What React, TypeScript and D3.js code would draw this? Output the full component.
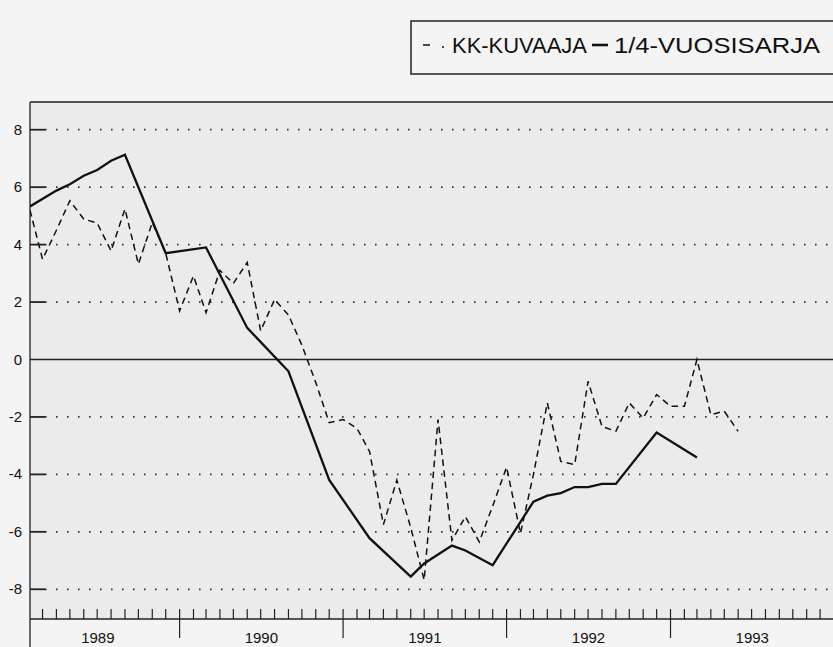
import React, { useEffect, useRef } from "react";
import * as d3 from "d3";

// monthly series (KK-kuvaaja), starts Feb 1989
const kkStart = "1989-02";
const kkValues = [
  5.2, 3.49, 4.5, 5.53, 4.89, 4.75, 3.78, 5.24, 3.32, 4.77, 3.7,
  1.69, 2.91, 1.63, 3.1, 2.65, 3.38, 1.0, 2.09, 1.55, 0.5, -0.8, -2.2,
  -2.09, -2.4, -3.2, -5.75, -4.2, -5.85, -7.68, -2.09, -6.3, -5.47, -6.35, -5.1,
  -3.75, -6.05, -4.0, -1.51, -3.55, -3.66, -0.76, -2.33, -2.5, -1.51, -2.04, -1.22,
  -1.63, -1.63, 0.0, -1.92, -1.8, -2.5,
];

// quarterly series (1/4-vuosisarja)
const qDates = [
  "1989-02", "1989-04", "1989-05", "1989-06", "1989-07", "1989-08", "1989-09", "1989-12",
  "1990-03", "1990-06", "1990-09", "1990-12",
  "1991-03", "1991-06", "1991-07", "1991-09", "1991-10", "1991-12",
  "1992-03", "1992-04", "1992-05", "1992-06", "1992-07", "1992-08", "1992-09", "1992-12",
  "1993-03",
];
const qValues = [
  5.33, 5.88, 6.1, 6.4, 6.6, 6.92, 7.13, 3.7,
  3.9, 1.1, -0.41, -4.19,
  -6.22, -7.56, -7.1, -6.48, -6.65, -7.16,
  -4.95, -4.74, -4.65, -4.44, -4.44, -4.33, -4.33, -2.54,
  -3.41,
];

const yTicks = [8, 6, 4, 2, 0, -2, -4, -6, -8];
const years = ["1989", "1990", "1991", "1992", "1993"];

const W = 833;
const H = 647;
const FONT = "'Liberation Sans', Arial, Helvetica, sans-serif";

const App: React.FC = () => {
  const svgRef = useRef<SVGSVGElement | null>(null);

  useEffect(() => {
    const parse = d3.timeParse("%Y-%m")!;
    const left = 30;
    const right = W;
    const top = 102;
    const bottom = 619;

    const x = d3
      .scaleTime()
      .domain([parse("1989-02")!, parse("1994-01")!])
      .range([left, 834]);
    const y = d3.scaleLinear().domain([-9, 9]).range([618, 101]);

    const svg = d3.select(svgRef.current);
    svg.selectAll("*").remove();

    svg.append("rect").attr("width", W).attr("height", H).attr("fill", "#f4f4f4");
    svg
      .append("rect")
      .attr("x", left)
      .attr("y", top)
      .attr("width", right - left)
      .attr("height", bottom - top)
      .attr("fill", "#ebebeb");

    // frame
    svg.append("line").attr("x1", left).attr("x2", right).attr("y1", top).attr("y2", top)
      .attr("stroke", "#222").attr("stroke-width", 1.5);
    svg.append("line").attr("x1", left).attr("x2", left).attr("y1", top).attr("y2", H)
      .attr("stroke", "#222").attr("stroke-width", 1.3);

    // y grid + ticks
    yTicks.forEach((t) => {
      const yy = y(t);
      if (t === 0) {
        svg.append("line").attr("x1", left).attr("x2", right).attr("y1", yy).attr("y2", yy)
          .attr("stroke", "#222").attr("stroke-width", 1.4);
      } else {
        svg.append("line").attr("x1", left).attr("x2", left + 15).attr("y1", yy).attr("y2", yy)
          .attr("stroke", "#222").attr("stroke-width", 1.8);
        svg.append("line").attr("x1", left + 15).attr("x2", right).attr("y1", yy).attr("y2", yy)
          .attr("stroke", "#333").attr("stroke-width", 1.8)
          .attr("stroke-dasharray", "1.6,9.4");
      }
      svg.append("text").attr("x", 22).attr("y", yy + 5).attr("text-anchor", "end")
        .attr("font-family", FONT).attr("font-size", 15).attr("fill", "#111").text(String(t));
    });

    // x axis
    svg.append("line").attr("x1", left).attr("x2", right).attr("y1", bottom).attr("y2", bottom)
      .attr("stroke", "#222").attr("stroke-width", 1.5);
    const [d0, d1] = x.domain();
    d3.timeMonth.range(d3.timeMonth.offset(d0, 1), d1).forEach((d) => {
      const xx = x(d);
      const isYear = d.getMonth() === 0;
      svg.append("line").attr("x1", xx).attr("x2", xx)
        .attr("y1", bottom - 10).attr("y2", isYear ? 638 : bottom)
        .attr("stroke", "#222").attr("stroke-width", 1.2);
    });
    years.forEach((yr) => {
      const a = x(parse(`${yr}-01`)!);
      const b = x(parse(`${+yr + 1}-01`)!);
      svg.append("text").attr("x", (a + b) / 2).attr("y", 643).attr("text-anchor", "middle")
        .attr("font-family", FONT).attr("font-size", 15).attr("fill", "#111").text(yr);
    });

    // lines
    svg.append("clipPath").attr("id", "plot-clip").append("rect")
      .attr("x", left).attr("y", top).attr("width", right - left).attr("height", bottom - top);

    const kkDates = d3.timeMonth.range(parse(kkStart)!, d3.timeMonth.offset(parse(kkStart)!, kkValues.length));
    const kk = kkValues.map((v, i) => ({ d: kkDates[i], v }));
    const q = qValues.map((v, i) => ({ d: parse(qDates[i])!, v }));

    const line = d3
      .line<{ d: Date; v: number }>()
      .x((p) => x(p.d))
      .y((p) => y(p.v));

    svg.append("path").datum(kk).attr("d", line).attr("fill", "none")
      .attr("stroke", "#111").attr("stroke-width", 1.5).attr("stroke-dasharray", "6.5,4.5")
      .attr("clip-path", "url(#plot-clip)");
    svg.append("path").datum(q).attr("d", line).attr("fill", "none")
      .attr("stroke", "#111").attr("stroke-width", 2.3).attr("stroke-linejoin", "miter")
      .attr("clip-path", "url(#plot-clip)");

    // legend
    const lg = svg.append("g");
    lg.append("rect").attr("x", 411).attr("y", 21).attr("width", 440).attr("height", 53)
      .attr("fill", "none").attr("stroke", "#222").attr("stroke-width", 1.5);
    lg.append("line").attr("x1", 423).attr("x2", 430).attr("y1", 45).attr("y2", 45)
      .attr("stroke", "#111").attr("stroke-width", 1.5);
    lg.append("line").attr("x1", 442).attr("x2", 444).attr("y1", 47).attr("y2", 47)
      .attr("stroke", "#111").attr("stroke-width", 1.5);
    lg.append("text").attr("x", 452).attr("y", 53).attr("font-family", FONT)
      .attr("font-size", 22).attr("fill", "#111")
      .attr("textLength", 135).attr("lengthAdjust", "spacingAndGlyphs").text("KK-KUVAAJA");
    lg.append("line").attr("x1", 592).attr("x2", 608).attr("y1", 45).attr("y2", 45)
      .attr("stroke", "#111").attr("stroke-width", 2.6);
    lg.append("text").attr("x", 614).attr("y", 53).attr("font-family", FONT)
      .attr("font-size", 22).attr("fill", "#111")
      .attr("textLength", 206).attr("lengthAdjust", "spacingAndGlyphs").text("1/4-VUOSISARJA");
  }, []);

  return (
    <svg
      ref={svgRef}
      width={W}
      height={H}
      style={{ position: "absolute", left: 0, top: 0, display: "block" }}
    ></svg>
  );
};

export default App;
